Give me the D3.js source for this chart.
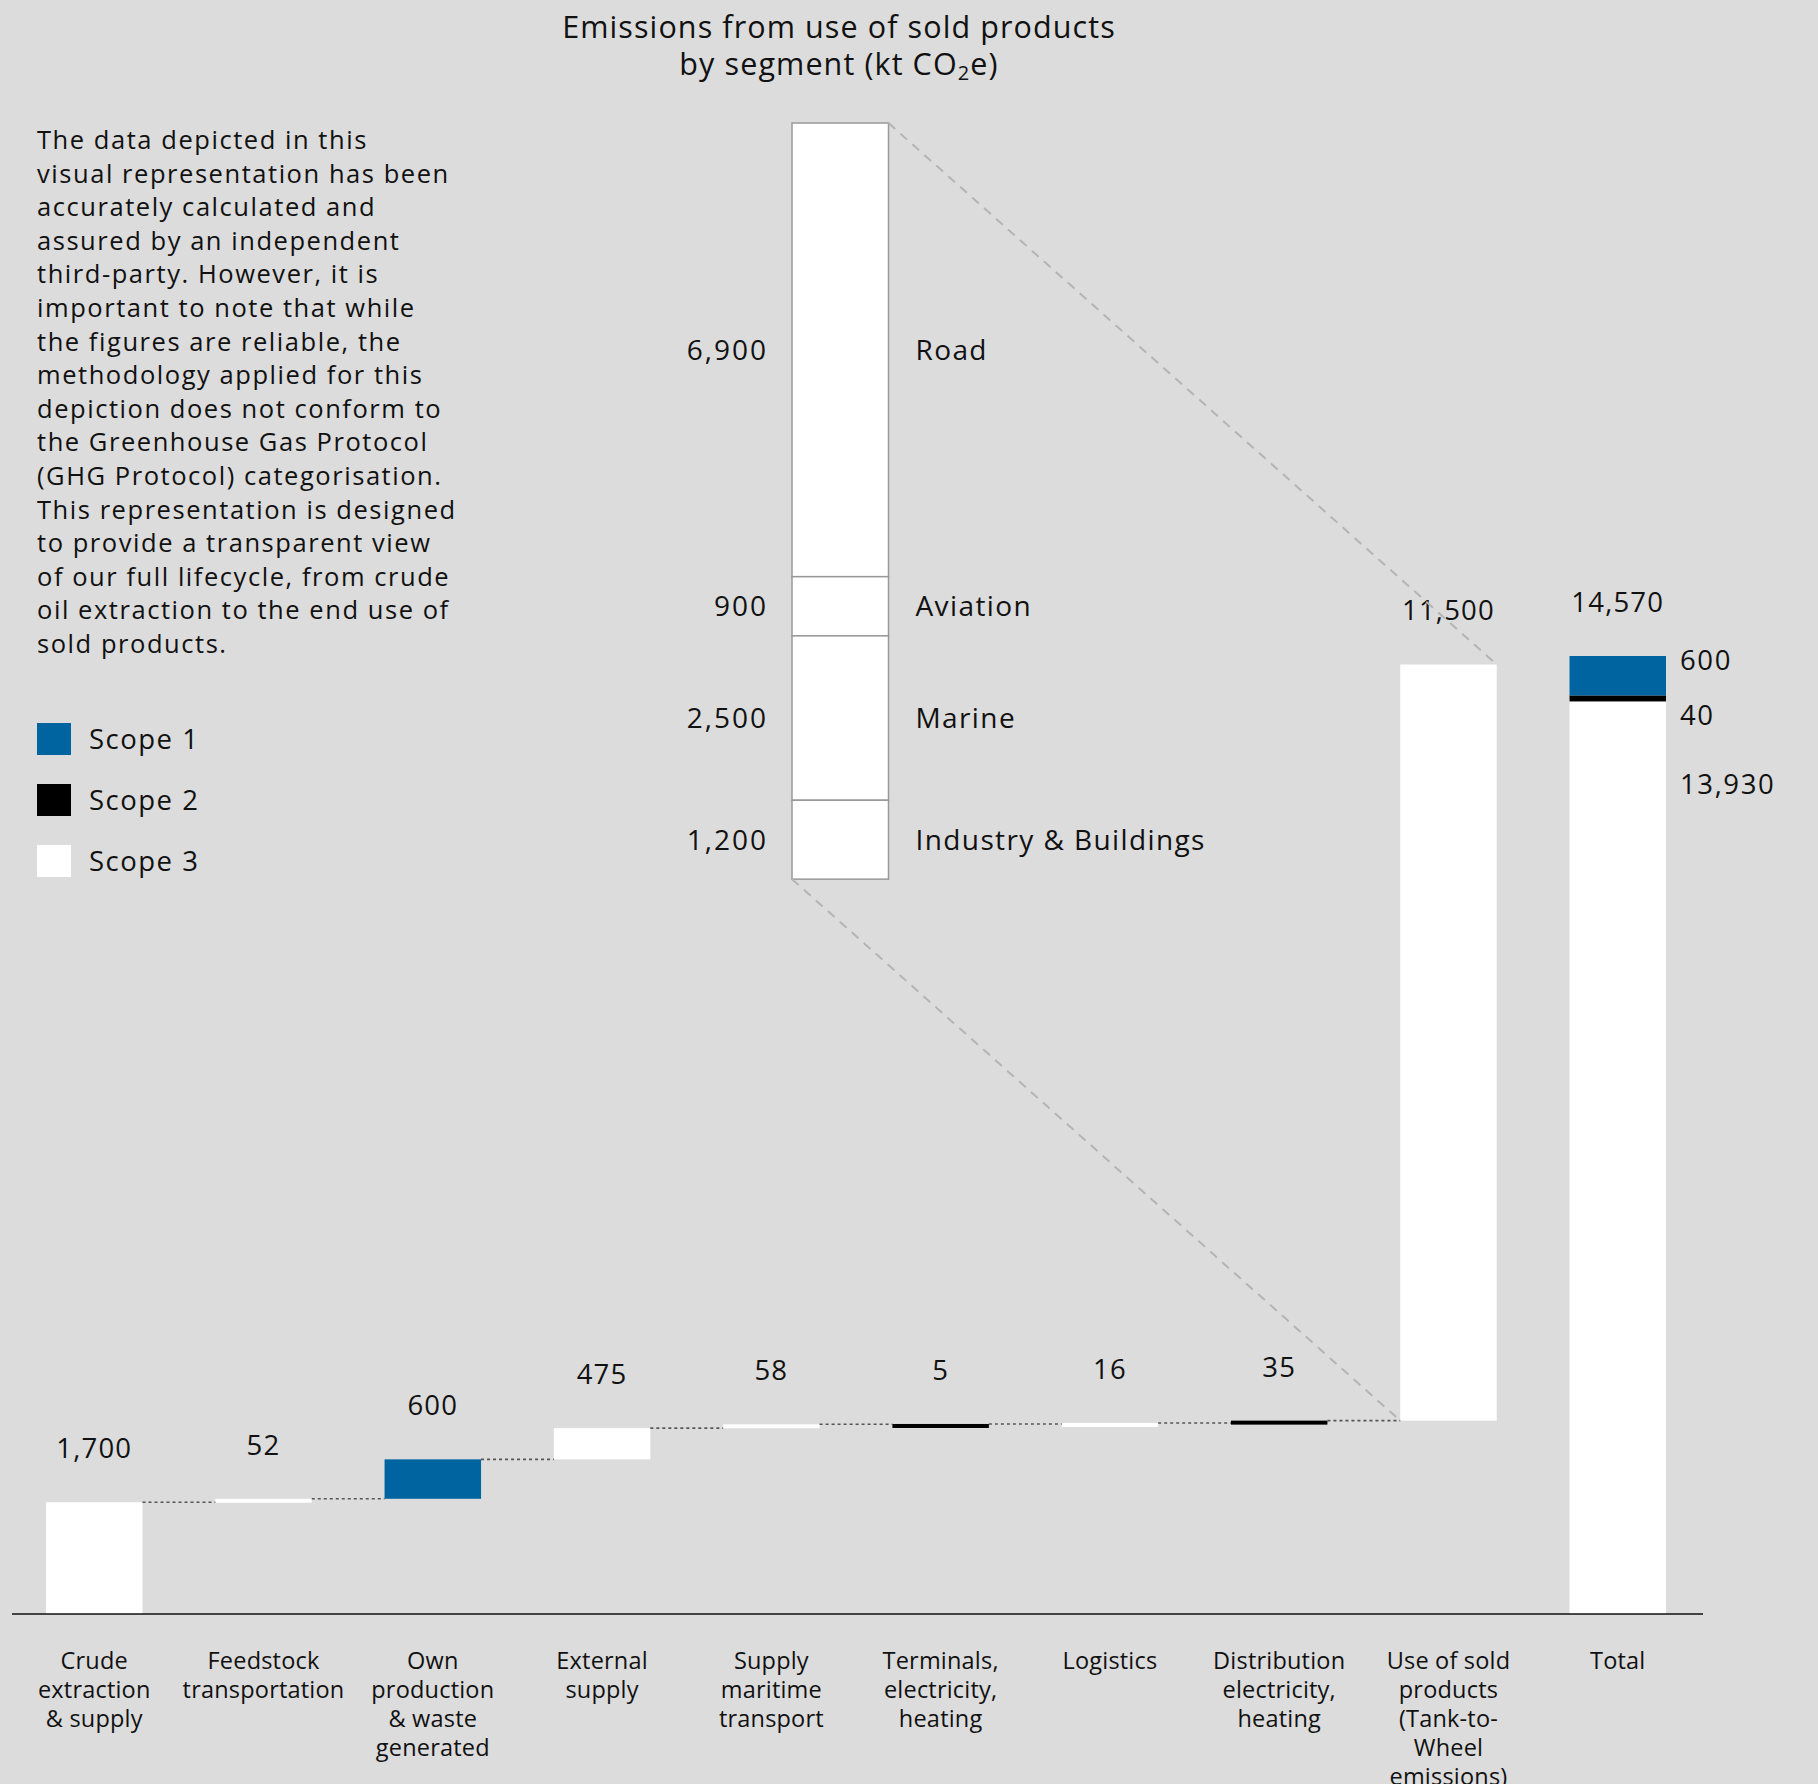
<!DOCTYPE html>
<html>
<head>
<meta charset="utf-8">
<script src="https://cdn.jsdelivr.net/npm/d3@7"></script>
<style>
  html, body { margin: 0; padding: 0; background: #dcdcdc; }
  svg { display: block; }
  text { font-family: "Open Sans", "Lato", sans-serif; fill: #111; }
</style>
</head>
<body>
<svg id="chart" width="1818" height="1784"></svg>
<script>
// Waterfall steps along the value chain (kt CO2e)
const categories = [
  "Crude extraction & supply", "Feedstock transportation", "Own production & waste generated",
  "External supply", "Supply maritime transport", "Terminals, electricity, heating",
  "Logistics", "Distribution electricity, heating", "Use of sold products (Tank-to-Wheel emissions)", "Total"
];
const categoryLines = [
  ["Crude", "extraction", "& supply"],
  ["Feedstock", "transportation"],
  ["Own", "production", "& waste", "generated"],
  ["External", "supply"],
  ["Supply", "maritime", "transport"],
  ["Terminals,", "electricity,", "heating"],
  ["Logistics"],
  ["Distribution", "electricity,", "heating"],
  ["Use of sold", "products", "(Tank-to-", "Wheel", "emissions)"],
  ["Total"]
];
const stepValues = [1700, 52, 600, 475, 58, 5, 16, 35, 11500];
const stepLabels = ["1,700", "52", "600", "475", "58", "5", "16", "35", "11,500"];
const stepScopes = [3, 3, 1, 3, 3, 2, 3, 2, 3];

// Total split by scope (bottom to top)
const totalScopes = [3, 2, 1];
const totalScopeValues = [13930, 40, 600];
const totalScopeLabels = ["13,930", "40", "600"];
const totalValue = 14570;
const totalLabel = "14,570";

// Use of sold products by segment (top to bottom)
const segments = ["Road", "Aviation", "Marine", "Industry & Buildings"];
const segmentValues = [6900, 900, 2500, 1200];
const segmentLabels = ["6,900", "900", "2,500", "1,200"];

const legendScopes = ["Scope 1", "Scope 2", "Scope 3"];
const noteLines = [
  "The data depicted in this",
  "visual representation has been",
  "accurately calculated and",
  "assured by an independent",
  "third-party. However, it is",
  "important to note that while",
  "the figures are reliable, the",
  "methodology applied for this",
  "depiction does not conform to",
  "the Greenhouse Gas Protocol",
  "(GHG Protocol) categorisation.",
  "This representation is designed",
  "to provide a transparent view",
  "of our full lifecycle, from crude",
  "oil extraction to the end use of",
  "sold products."
];

const scopeColor = d3.scaleOrdinal().domain([1, 2, 3]).range(["#0064a0", "#000000", "#ffffff"]);

const svg = d3.select("#chart");
const baseY = 1614;
const minH = 4;

const x = d3.scaleBand().domain(categories).range([46, 1666]).paddingInner(0.43).paddingOuter(0);
const y = d3.scaleLinear().domain([0, totalValue]).range([baseY, 656]);
const bw = x.bandwidth();

// Title
const title = svg.append("text").attr("x", 839).attr("text-anchor", "middle")
  .style("font-size", "30.5px").style("letter-spacing", "1.1px");
title.append("tspan").attr("x", 839).attr("y", 38).text("Emissions from use of sold products");
const t2 = title.append("tspan").attr("x", 839).attr("y", 75).text("by segment (kt CO");
t2.append("tspan").attr("dy", 5).style("font-size", "20px").text("2");
t2.append("tspan").attr("dy", -5).text("e)");

// Explanatory note
svg.append("g").selectAll("text").data(noteLines).join("text")
  .attr("x", 37).attr("y", (d, i) => 149 + i * 33.6)
  .style("font-size", "25.5px").style("letter-spacing", "1.55px")
  .text(d => d);

// Legend
const leg = svg.append("g").selectAll("g").data(legendScopes).join("g")
  .attr("transform", (d, i) => `translate(37,${723 + i * 61})`);
leg.append("rect").attr("width", 34).attr("height", 32).attr("fill", (d, i) => scopeColor(i + 1));
leg.append("text").attr("x", 52).attr("y", 26).style("font-size", "27.5px")
  .style("letter-spacing", "1.5px").text(d => d);

// Waterfall steps
let cum = 0;
const steps = stepValues.map((v, i) => {
  const s = { cat: categories[i], v, start: cum, end: cum + v, scope: stepScopes[i], label: stepLabels[i] };
  cum += v;
  return s;
});

svg.append("g").selectAll("rect").data(steps).join("rect")
  .attr("x", d => x(d.cat))
  .attr("y", d => y(d.end))
  .attr("width", bw)
  .attr("height", d => Math.max(y(d.start) - y(d.end), minH))
  .attr("fill", d => scopeColor(d.scope));

// Dotted connectors between consecutive steps
svg.append("g").selectAll("line").data(steps.slice(0, -1)).join("line")
  .attr("x1", d => x(d.cat) + bw)
  .attr("x2", (d, i) => x(steps[i + 1].cat))
  .attr("y1", d => y(d.end))
  .attr("y2", d => y(d.end))
  .attr("stroke", "#555").attr("stroke-width", 1.6).attr("stroke-dasharray", "3,3");

// Step value labels
svg.append("g").selectAll("text").data(steps).join("text")
  .attr("x", d => x(d.cat) + bw / 2)
  .attr("y", d => y(d.end) - 44)
  .attr("text-anchor", "middle").style("font-size", "27.5px").style("letter-spacing", "1.2px")
  .text(d => d.label);

// Total bar stacked by scope
let tc = 0;
const totalParts = totalScopeValues.map((v, i) => {
  const p = { v, start: tc, end: tc + v, scope: totalScopes[i], label: totalScopeLabels[i] };
  tc += v;
  return p;
});
const totalCat = categories[categories.length - 1];
svg.append("g").selectAll("rect").data(totalParts).join("rect")
  .attr("x", x(totalCat))
  .attr("y", d => y(d.end))
  .attr("width", bw)
  .attr("height", d => Math.max(y(d.start) - y(d.end), d.scope === 2 ? 6 : minH))
  .attr("fill", d => scopeColor(d.scope));

svg.append("text").attr("x", x(totalCat) + bw / 2).attr("y", y(totalValue) - 44)
  .attr("text-anchor", "middle").style("font-size", "27.5px").style("letter-spacing", "1.2px")
  .text(totalLabel);

const sideOffsets = [96, 30, 14];
svg.append("g").selectAll("text").data(totalParts).join("text")
  .attr("x", x(totalCat) + bw + 14)
  .attr("y", (d, i) => y(d.end) + sideOffsets[i])
  .style("font-size", "27.5px").style("letter-spacing", "1.6px")
  .text(d => d.label);

// Baseline
svg.append("line").attr("x1", 12).attr("x2", 1703).attr("y1", baseY).attr("y2", baseY)
  .attr("stroke", "#111").attr("stroke-width", 1.5);

// Category labels
const catG = svg.append("g").selectAll("text").data(categories).join("text")
  .attr("text-anchor", "middle").style("font-size", "23.5px").style("letter-spacing", "0.2px");
catG.each(function(d, i) {
  const t = d3.select(this);
  categoryLines[i].forEach((ln, j) => {
    t.append("tspan").attr("x", x(d) + bw / 2).attr("y", 1669 + j * 29).text(ln);
  });
});

// Segment breakdown of use of sold products
const useStep = steps[steps.length - 1];
const insetLeft = 792, insetTop = 123;
const insetH = y(0) - y(useStep.v);
const yIn = d3.scaleLinear().domain([0, d3.sum(segmentValues)]).range([insetTop, insetTop + insetH]);
let sc = 0;
const segs = segmentValues.map((v, i) => {
  const s = { name: segments[i], v, start: sc, end: sc + v, label: segmentLabels[i] };
  sc += v;
  return s;
});
const gIn = svg.append("g");
gIn.selectAll("rect").data(segs).join("rect")
  .attr("x", insetLeft).attr("y", d => yIn(d.start))
  .attr("width", bw).attr("height", d => yIn(d.end) - yIn(d.start))
  .attr("fill", "#fff").attr("stroke", "#999").attr("stroke-width", 1.5);
gIn.selectAll("text.val").data(segs).join("text").attr("class", "val")
  .attr("x", insetLeft - 24).attr("y", d => (yIn(d.start) + yIn(d.end)) / 2 + 10)
  .attr("text-anchor", "end").style("font-size", "28px").style("letter-spacing", "2px")
  .text(d => d.label);
gIn.selectAll("text.name").data(segs).join("text").attr("class", "name")
  .attr("x", insetLeft + bw + 27).attr("y", d => (yIn(d.start) + yIn(d.end)) / 2 + 10)
  .style("font-size", "28px").style("letter-spacing", "1.4px").text(d => d.name);

// Dashed lines tying the breakdown to its bar
const useX = x(useStep.cat);
const zoomLines = [
  [insetLeft + bw, insetTop, useX + bw, y(useStep.end)],
  [insetLeft, insetTop + insetH, useX, y(useStep.start)]
];
svg.append("g").selectAll("line").data(zoomLines).join("line")
  .attr("x1", d => d[0]).attr("y1", d => d[1]).attr("x2", d => d[2]).attr("y2", d => d[3])
  .attr("stroke", "#b4b4b4").attr("stroke-width", 2).attr("stroke-dasharray", "9,7");
</script>
</body>
</html>
